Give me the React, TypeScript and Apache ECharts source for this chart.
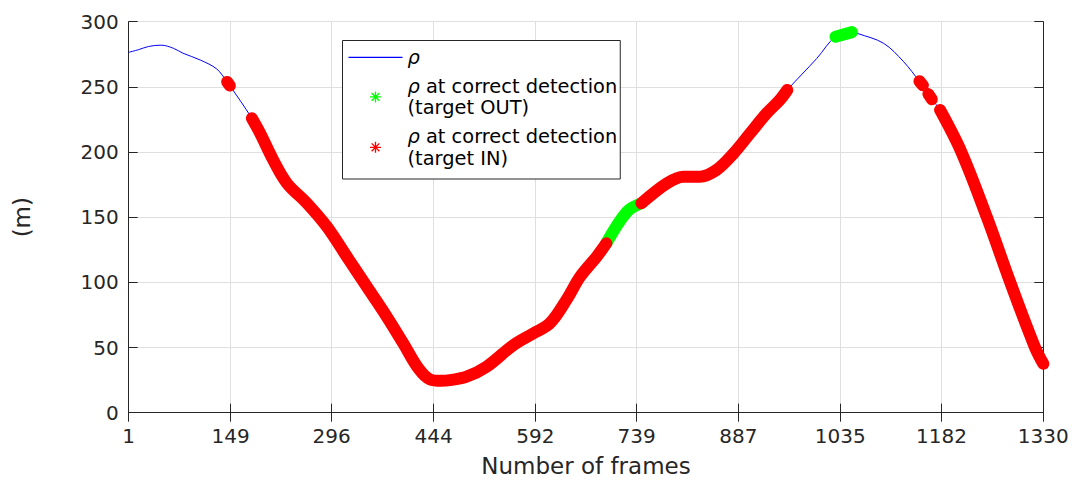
import React, { useEffect, useRef } from "react";
import * as echarts from "echarts";

// ---- data ----
const frames = [
  1, 15, 30, 48, 66, 80, 105, 129, 144, 148, 180, 192, 211, 231, 260, 289, 318, 347, 376, 400,
  422, 439, 455, 468, 492, 521, 560, 589, 613, 637, 657, 681, 690, 695, 725, 746, 783, 807, 831,
  855, 880, 904, 928, 947, 958, 1001, 1028, 1052, 1060, 1098, 1127, 1150, 1155, 1163, 1168, 1180,
  1211, 1248, 1282, 1318, 1330,
];
const rho = [
  276.5, 278.5, 281.0, 282.0, 279.6, 275.8, 270.6, 263.7, 253.8, 251.0, 225.9, 214.4, 193.9, 176.0,
  160.7, 142.7, 119.7, 96.7, 73.7, 53.2, 34.0, 25.5, 24.5, 25.0, 27.6, 35.3, 51.9, 60.9, 68.6, 86.5,
  104.4, 119.7, 126.1, 130.0, 154.2, 160.7, 176.0, 181.1, 181.1, 186.2, 199.0, 214.4, 229.7, 239.9,
  247.6, 271.9, 288.5, 292.0, 291.0, 283.4, 269.3, 254.3, 251.2, 244.5, 240.5, 232.3, 200.0, 150.0,
  100.0, 50.0, 37.5,
];
// frame ranges where the detection markers are drawn
const outRanges = [
  [695, 746],
  [1028, 1052],
];
const inRanges = [
  [144, 148],
  [180, 695],
  [746, 958],
  [1150, 1155],
  [1163, 1168],
  [1180, 1330],
];
const xTicks = [1, 149, 296, 444, 592, 739, 887, 1035, 1182, 1330];
const yTicks = [0, 50, 100, 150, 200, 250, 300];

const NAME_RHO = "ρ";
const NAME_OUT = "ρ at correct detection\n(target OUT)";
const NAME_IN = "ρ at correct detection\n(target IN)";

const FONT = "DejaVu Sans";
const AX = "#262626";
const STAR =
  "path://M5,0.6L-5,0.6L-5,-0.6L5,-0.6Z" +
  "M3.12,3.96L-3.96,-3.12L-3.12,-3.96L3.96,3.12Z" +
  "M-0.6,5L-0.6,-5L0.6,-5L0.6,5Z" +
  "M-3.96,3.12L3.12,-3.96L3.96,-3.12L-3.12,3.96Z";
const LINE_ICON = "path://M0,0L54,0L54,1.1L0,1.1Z";

function seg(a: number, b: number) {
  return frames
    .map((f, i) => [f, rho[i]])
    .filter((p) => p[0] >= a && p[0] <= b);
}

export default function App() {
  const ref = useRef<HTMLDivElement>(null);
  useEffect(() => {
    if (!ref.current) return;
    const chart = echarts.init(ref.current, undefined, { renderer: "svg" });
    const markerSeries = (name: string, color: string, ranges: number[][], z: number) =>
      ranges.map((r) => ({
        type: "line",
        name,
        data: seg(r[0], r[1]),
        smooth: 0.35,
        symbol: "none",
        z,
        itemStyle: { color },
        lineStyle: { color, width: 12, cap: "round", join: "round" },
      }));
    const fmt = (v: number) => String(Math.round(v));
    chart.setOption({
      animation: false,
      textStyle: { fontFamily: FONT },
      grid: {
        left: 128.7,
        right: 30.7,
        top: 21.7,
        bottom: 68.3,
        containLabel: false,
        outerBoundsMode: "none",
      },
      legend: {
        orient: "vertical",
        left: 342.5,
        top: 40.5,
        padding: [6, 3, 10, 6],
        itemWidth: 54,
        itemHeight: 11,
        itemGap: 7,
        borderColor: AX,
        borderWidth: 1,
        backgroundColor: "#fff",
        selectedMode: false,
        data: [
          { name: NAME_RHO, icon: LINE_ICON, itemStyle: { color: "#0000ff" } },
          { name: NAME_OUT, icon: STAR },
          { name: NAME_IN, icon: STAR },
        ],
        formatter: (n: string) => n.replace("ρ", "{i|ρ}"),
        textStyle: {
          fontFamily: FONT,
          fontSize: 19.4,
          lineHeight: 21.7,
          color: "#000",
          rich: { i: { fontStyle: "italic", fontFamily: FONT, fontSize: 19.4, lineHeight: 21.7 } },
        },
      },
      xAxis: [
        {
          type: "value",
          min: 1,
          max: 1330,
          position: "bottom",
          name: "Number of frames",
          nameLocation: "middle",
          nameGap: 42,
          nameTextStyle: { fontSize: 23, color: AX, fontFamily: FONT },
          axisLine: { show: true, lineStyle: { color: AX, width: 1 } },
          axisTick: { show: true, inside: true, length: 9, customValues: xTicks, lineStyle: { color: AX } },
          axisLabel: { customValues: xTicks, formatter: fmt, fontSize: 20, color: AX, margin: 13, fontFamily: FONT },
          splitLine: { show: true, lineStyle: { color: "#dfdfdf", width: 1 } },
        },
        {
          type: "value",
          min: 1,
          max: 1330,
          position: "top",
          axisLine: { show: true, lineStyle: { color: AX, width: 1 } },
          axisTick: { show: true, inside: true, length: 9, customValues: xTicks, lineStyle: { color: AX } },
          axisLabel: { show: false },
          splitLine: { show: false },
        },
      ],
      yAxis: [
        {
          type: "value",
          min: 0,
          max: 300,
          interval: 50,
          position: "left",
          name: "(m)",
          nameLocation: "middle",
          nameGap: 95,
          nameRotate: 90,
          nameTextStyle: { fontSize: 23, color: AX, fontFamily: FONT },
          axisLine: { show: true, lineStyle: { color: AX, width: 1 } },
          axisTick: { show: true, inside: true, length: 9, customValues: yTicks, lineStyle: { color: AX } },
          axisLabel: { fontSize: 20, color: AX, margin: 10, formatter: fmt, fontFamily: FONT },
          splitLine: { show: true, lineStyle: { color: "#dfdfdf", width: 1 } },
        },
        {
          type: "value",
          min: 0,
          max: 300,
          interval: 50,
          position: "right",
          axisLine: { show: true, lineStyle: { color: AX, width: 1 } },
          axisTick: { show: true, inside: true, length: 9, lineStyle: { color: AX } },
          axisLabel: { show: false },
          splitLine: { show: false },
        },
      ],
      series: [
        {
          type: "line",
          name: NAME_RHO,
          data: frames.map((f, i) => [f, rho[i]]),
          smooth: 0.35,
          symbol: "none",
          z: 2,
          itemStyle: { color: "#0000ff" },
          lineStyle: { color: "#0000ff", width: 1 },
        },
        ...markerSeries(NAME_OUT, "#00ff00", outRanges, 3),
        ...markerSeries(NAME_IN, "#ff0000", inRanges, 4),
      ],
    });
    return () => chart.dispose();
  }, []);
  return (
    <div
      ref={ref}
      style={{ position: "fixed", left: 0, top: 0, width: 1074, height: 481, background: "#fff" }}
    />
  );
}
